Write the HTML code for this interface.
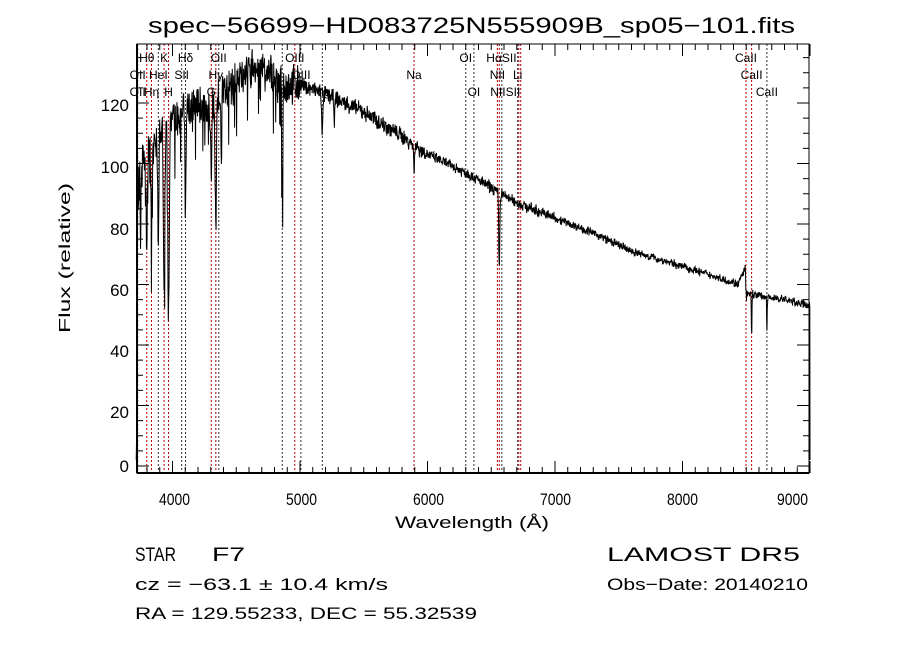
<!DOCTYPE html>
<html><head><meta charset="utf-8"><style>
html,body{margin:0;padding:0;background:#fff;}
svg{display:block;font-family:"Liberation Sans","DejaVu Sans",sans-serif;}
</style></head><body>
<svg id="s" width="900" height="649" viewBox="0 0 900 649" xmlns="http://www.w3.org/2000/svg">
<rect width="900" height="649" fill="#fff"/>
<text x="148" y="33" font-size="22" textLength="647" lengthAdjust="spacingAndGlyphs">spec−56699−HD083725N555909B_sp05−101.fits</text>
<g id="lines"></g>
<path id="spec" fill="none" stroke="#000" stroke-width="1"/>
<g id="ticks" stroke="#000" stroke-width="1"></g>
<rect x="137" y="44" width="672" height="429" fill="none" stroke="#000" stroke-width="1"/>
<line x1="137" y1="44" x2="137" y2="473" stroke="#000" stroke-width="2"/>
<line x1="137" y1="473" x2="809" y2="473" stroke="#000" stroke-width="2"/>
<g font-size="17">
<text x="159" y="505" textLength="31" lengthAdjust="spacingAndGlyphs">4000</text>
<text x="286" y="505" textLength="31" lengthAdjust="spacingAndGlyphs">5000</text>
<text x="413" y="505" textLength="31" lengthAdjust="spacingAndGlyphs">6000</text>
<text x="540" y="505" textLength="31" lengthAdjust="spacingAndGlyphs">7000</text>
<text x="667" y="505" textLength="31" lengthAdjust="spacingAndGlyphs">8000</text>
<text x="777" y="505" textLength="31" lengthAdjust="spacingAndGlyphs">9000</text>
<text x="395" y="528" textLength="154" lengthAdjust="spacingAndGlyphs">Wavelength (Å)</text>
</g>
<g font-size="17" text-anchor="end">
<text x="129" y="472">0</text><text x="129" y="418">20</text><text x="129" y="357">40</text>
<text x="129" y="296">60</text><text x="129" y="235">80</text><text x="129" y="173">100</text><text x="129" y="111">120</text>
</g>
<text transform="translate(70,333) rotate(-90)" font-size="16" textLength="150" lengthAdjust="spacingAndGlyphs">Flux (relative)</text>
<g font-size="12" id="lbl"></g>
<g font-size="19"><text x="135" y="561" textLength="41" lengthAdjust="spacingAndGlyphs">STAR</text><text x="212" y="561" textLength="33" lengthAdjust="spacingAndGlyphs">F7</text><text x="607" y="561" textLength="193" lengthAdjust="spacingAndGlyphs">LAMOST  DR5</text></g>
<g font-size="17"><text x="135" y="590" textLength="253" lengthAdjust="spacingAndGlyphs">cz = −63.1 ± 10.4 km/s</text><text x="607" y="590" textLength="201" lengthAdjust="spacingAndGlyphs">Obs−Date: 20140210</text>
<text x="135" y="619" textLength="342" lengthAdjust="spacingAndGlyphs">RA = 129.55233, DEC =  55.32539</text></g>
</svg>
<script>
var NS="http://www.w3.org/2000/svg";
function X(w){return 172.5+(w-4000)*0.1275;}
function Y(f){return 466-f*3.025;}
var L=[[3727,0],[3798,1],[3835,1],[3889,0],[3934,1],[3969,1],[4072,0],[4102,0],[4304,1],[4340,1],[4363,0],[4861,0],[4959,1],[5007,0],[5175,0],[5894,1],[6300,0],[6364,0],[6548,1],[6563,1],[6583,0],[6707,0],[6716,1],[6731,1],[8498,1],[8542,1],[8662,0]];
var g=document.getElementById('lines');
L.forEach(function(l){var e=document.createElementNS(NS,'line');var x=X(l[0]);e.setAttribute('x1',x);e.setAttribute('x2',x);e.setAttribute('y1',44);e.setAttribute('y2',473);e.setAttribute('stroke',l[1]?'#b00':'#333');e.setAttribute('stroke-dasharray','2,2');e.setAttribute('stroke-width','1');g.appendChild(e);});
var T=[["Hθ",3798,62],["K",3934,62],["Hδ",4102,62],["OII",4363,62],["OIII",4959,62],["OI",6300,62],["HαSII",6580,62],["CaII",8498,62],
["OII",3727,79],["HeI",3889,79],["SII",4072,79],["Hγ",4340,79],["OIII",5007,79],["Na",5894,79],["NII",6548,79],["Li",6707,79],["CaII",8542,79],
["OII",3727,96],["Hη",3835,96],["H",3969,96],["G",4304,96],["Hβ",4861,96],["Mg",5175,96],["OI",6364,96],["NIISII",6610,96],["CaII",8662,96]];
var lb=document.getElementById('lbl');
T.forEach(function(t){var e=document.createElementNS(NS,'text');e.setAttribute('x',X(t[1]));e.setAttribute('y',t[2]);e.setAttribute('text-anchor','middle');e.textContent=t[0];lb.appendChild(e);});
var tk=document.getElementById('ticks'),d="";
for(var w=3800;w<=9000;w+=100){var x=X(w),len=(w%1000==0)?12:6;d+="M"+x+",473v-"+len+"M"+x+",44v"+len;}
for(var f=0;f<=140;f+=5){var y=Y(f),len=(f%20==0)?12:6;if(y<44)continue;d+="M137,"+y+"h"+len+"M809,"+y+"h-"+len;}
var p=document.createElementNS(NS,'path');p.setAttribute('d',d);p.setAttribute('fill','none');p.setAttribute('stroke','#000');tk.appendChild(p);
var seed=7;function r(){seed=(seed*16807)%2147483647;return seed/2147483647-0.5;}
var K=[[3700,100],[3800,103],[3900,112],[4000,115],[4100,118],[4200,120],[4300,118],[4400,124],[4500,127],[4600,131],[4700,131],[4800,129],[4900,126],[5000,126],[5200,123],[5500,117],[5800,109],[6000,103],[6300,97],[6500,92],[6700,87],[7000,82],[7300,77],[7600,71],[8000,66],[8300,62],[8450,60],[8500,57],[8800,55],[9000,53]];
function cont(w){for(var i=0;i<K.length-1;i++){if(w<=K[i+1][0]){var t=(w-K[i][0])/(K[i+1][0]-K[i][0]);return K[i][1]+t*(K[i+1][1]-K[i][1]);}}return 53;}
var A=[[3934,60,8],[3969,65,8],[3835,35,5],[3889,40,6],[3798,30,5],[3750,25,5],[4102,35,6],[4340,40,6],[4304,25,6],[4383,20,4],[4861,40,5],[5175,12,8],[5270,8,5],[5894,10,4],[6563,25,6],[8498,10,3],[8542,15,3],[8662,13,3]];
var pts=[];
for(var w=3715;w<=9000;w+=2.6){var f=cont(w);var amp=w<5000?5:(w<6000?2.2:(w<7000?1.5:1.1));f+=r()*amp*2+r()*amp;
A.forEach(function(a){var dd=(w-a[0])/a[2];f-=a[1]*Math.exp(-dd*dd);});
if(w<4900){if(r()>0.38)f-=10+r()*14;}
if(w>8440&&w<8500)f+=(w-8440)/60*9;
if(w<3722)f=5+r()*10;
pts.push(X(w).toFixed(1)+","+Y(Math.max(f,-1)).toFixed(1));}
pts.push(X(9000)+","+Y(2));
document.getElementById('spec').setAttribute('d',"M"+pts.join("L"));
</script>
</body></html>
